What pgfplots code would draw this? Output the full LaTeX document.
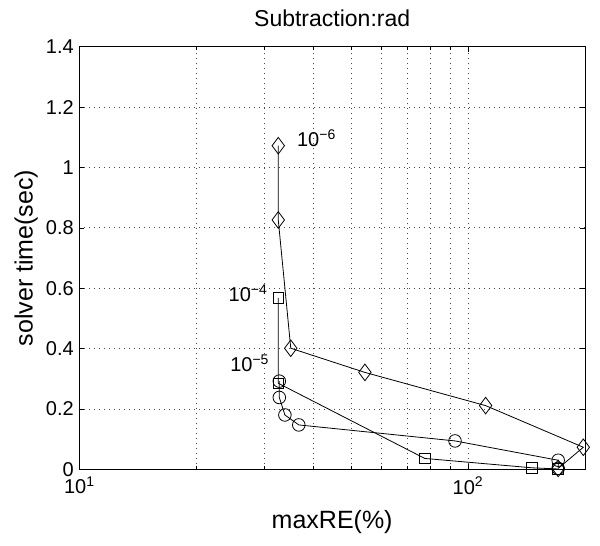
\documentclass[border=0pt]{standalone}
\usepackage{pgfplots}
\pgfplotsset{compat=1.18}
\usepackage{fontspec}
\setmainfont{Liberation Sans}
\begin{document}
\begin{tikzpicture}
\useasboundingbox (-79.3pt,-76.7pt) rectangle (520.7pt,469.3pt);
\begin{axis}[
  at={(0,0)}, anchor=south west,
  scale only axis, width=505.7pt, height=422.6pt,
  xmode=log, xmin=10, xmax=200, ymin=0, ymax=1.4,
  xtick={10,100}, xticklabels={{10\textsuperscript{1}},{10\textsuperscript{2}}},
  minor xtick={20,30,40,50,60,70,80,90},
  ytick={0,0.2,0.4,0.6,0.8,1,1.2,1.4},
  yticklabels={0,0.2,0.4,0.6,0.8,1,1.2,1.4},
  tick align=inside, major tick length=5pt, minor tick length=3pt,
  xmajorgrids, xminorgrids, ymajorgrids,
  grid style={dash pattern=on 1pt off 4pt, black!70, line width=0.7pt},
  minor grid style={dash pattern=on 1pt off 4pt, black!70, line width=0.7pt},
  axis line style={black, line width=0.8pt},
  tick style={black, line width=0.6pt},
  tick label style={font=\fontsize{20}{23}\selectfont},
  xticklabel style={yshift=-4pt},
  yticklabel style={xshift=-2pt},
  xlabel={maxRE(\%)}, ylabel={solver time(sec)},
  label style={font=\fontsize{25}{29}\selectfont},
  xlabel style={at={(axis description cs:0.5,-0.125)}, anchor=center},
  ylabel style={at={(axis description cs:-0.105,0.5)}, anchor=center},
  title={Subtraction:rad},
  title style={font=\fontsize{23}{27}\selectfont, at={(axis description cs:0.5,1)}, anchor=center, yshift=22pt},
  every axis plot/.append style={black, line width=0.8pt},
]
\addplot[mark=diamond, mark size=8.3pt, mark options={solid, line width=0.8pt}] coordinates {
 (32.5,1.072) (32.5,0.826) (35.0,0.401) (54.3,0.321) (111,0.211) (198,0.073) (170.6,0.003)};
\addplot[mark=square, mark size=5.3pt, mark options={solid, line width=0.8pt}] coordinates {
 (32.5,0.568) (32.5,0.285) (77.4,0.036) (146,0.005) (170.6,0.001)};
\addplot[mark=o, mark size=6.3pt, mark options={solid, line width=0.8pt}] coordinates {
 (32.7,0.292) (32.7,0.238) (33.8,0.180) (36.7,0.147) (92.6,0.094) (170.6,0.030) (170.6,0.003)};
\node[anchor=base west, font=\fontsize{20}{23}\selectfont, inner sep=0pt] at (axis cs:36.3,1.068) {10\textsuperscript{−6}};
\node[anchor=base east, font=\fontsize{20}{23}\selectfont, inner sep=0pt] at (axis cs:30.5,0.555) {10\textsuperscript{−4}};
\node[anchor=base east, font=\fontsize{20}{23}\selectfont, inner sep=0pt] at (axis cs:30.8,0.323) {10\textsuperscript{−5}};
\end{axis}
\end{tikzpicture}
\end{document}
